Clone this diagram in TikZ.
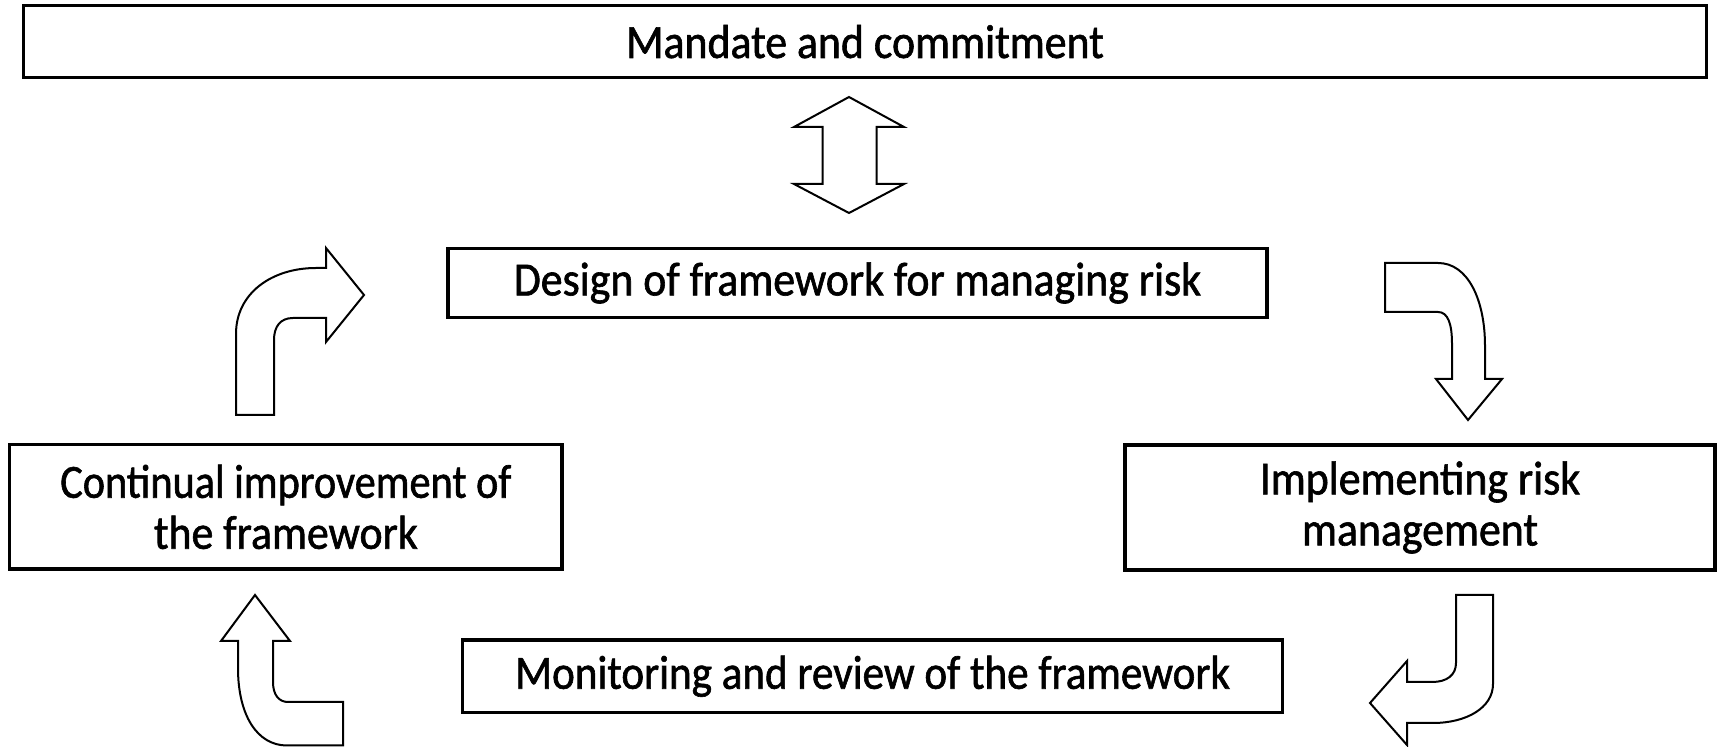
\documentclass[tikz,border=0pt]{standalone}
\usepackage{fontspec}
\setmainfont{Carlito}[FakeStretch=0.92,FakeBold=1.3]
\begin{document}
\begin{tikzpicture}[x=0.5pt,y=-0.5pt,
  box/.style={draw, line width=1.75pt, inner sep=0pt, align=center,
    font=\fontsize{23.8}{25.5}\selectfont},
  blockarrow/.style={draw, line width=1pt, fill=white, line join=miter}]
\useasboundingbox (0,0) rectangle (1719,747);
\node[box, minimum width=841.6pt, minimum height=35.9pt] (mandate) at (865,41.6) {Mandate and commitment};
\node[box, minimum width=409.5pt, minimum height=34.7pt] (design) at (857.5,283) {Design of framework for managing risk};
\node[box, minimum width=276.3pt, minimum height=62.2pt] (contin) at (285.8,506.9) {\scalebox{0.965}[1]{Continual improvement of}\\the framework};
\node[box, minimum width=295pt, minimum height=62.5pt] (impl) at (1420,507.5) {Implementing risk\\management};
\node[box, minimum width=410pt, minimum height=36.3pt] (monit) at (872.6,676.3) {\scalebox{0.985}[1]{Monitoring and review of the framework}};
% double arrow mandate <-> design
\draw[blockarrow] (849,97) -- (904,127) -- (876.7,127) -- (876.7,184) -- (904,184) -- (849,213)
  -- (794,184) -- (822.7,184) -- (822.7,127) -- (794,127) -- cycle;
% continual -> design
\draw[blockarrow] (236,415) -- (236,334) .. controls (236,293) and (272,268) .. (316,268)
  -- (326,268) -- (326,248) -- (364,295) -- (326,342) -- (326,318) -- (293,318)
  .. controls (280,318) and (274,327) .. (274,340) -- (274,415) -- cycle;
% design -> implementing
\draw[blockarrow] (1385,263) -- (1438,263) .. controls (1468,263) and (1485,300) .. (1485,346)
  -- (1485,379) -- (1502,379) -- (1468,420) -- (1436,379) -- (1452,379) -- (1452,344)
  .. controls (1452,324) and (1448,312) .. (1438,312) -- (1385,312) -- cycle;
% implementing -> monitoring
\draw[blockarrow] (1456,595) -- (1493,595) -- (1493,684) .. controls (1493,708) and (1466,723) .. (1433,723)
  -- (1407,723) -- (1407,745) -- (1370,703) -- (1407,661) -- (1407,682) -- (1432,682)
  .. controls (1447,682) and (1456,675) .. (1456,663) -- cycle;
% monitoring -> continual
\draw[blockarrow] (255,595) -- (290,641) -- (273,641) -- (273,682) .. controls (273,695) and (279,702) .. (288,702)
  -- (343,702) -- (343,745.5) -- (287,745.5) .. controls (257,745.5) and (238,715) .. (238,668)
  -- (238,641) -- (221,641) -- cycle;
\end{tikzpicture}
\end{document}
